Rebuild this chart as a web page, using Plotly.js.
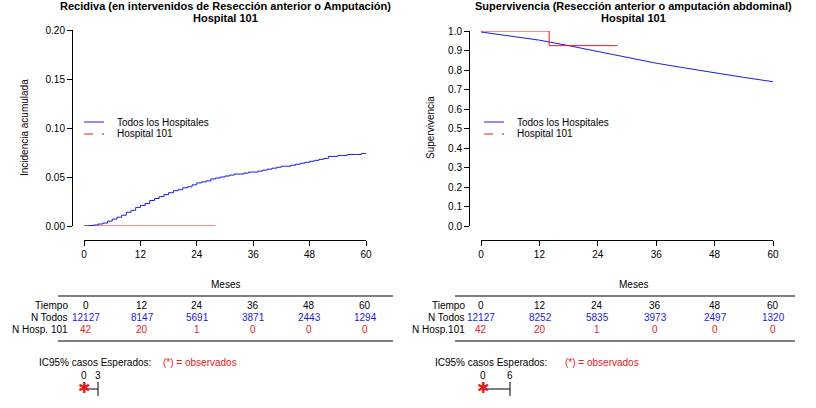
<!DOCTYPE html>
<html><head><meta charset="utf-8">
<script src="https://cdn.plot.ly/plotly-3.0.1.min.js"></script>
<style>body{margin:0}#c{width:816px;height:408px}</style>
</head><body><div id="c"></div>
<script>
// Recidiva (cumulative incidence), all hospitals vs hospital 101
const mesesRec = [0,1,2,3,4,5,6,7,8,9,10,11,12,13,14,15,16,17,18,19,20,21,22,23,24,25,26,27,28,29,30,31,32,33,34,35,36,37,38,39,40,41,42,43,44,45,46,47,48,49,50,51,52,53,54,55,56,57,58,59,60];
const recTodos = [0,0.0005,0.001,0.002,0.003,0.005,0.007,0.009,0.011,0.014,0.016,0.019,0.021,0.023,0.026,0.028,0.030,0.032,0.034,0.036,0.037,0.039,0.040,0.042,0.044,0.045,0.046,0.048,0.049,0.050,0.051,0.052,0.053,0.053,0.054,0.055,0.055,0.056,0.057,0.058,0.059,0.060,0.061,0.061,0.062,0.063,0.064,0.065,0.066,0.067,0.068,0.069,0.071,0.071,0.072,0.072,0.073,0.073,0.073,0.074,0.074];
const mesesRecH = [0,28];
const recHosp = [0,0];
// Supervivencia
const mesesSup = [0,6,12,18,24,30,36,42,48,54,60];
const supTodos = [0.995,0.975,0.953,0.925,0.895,0.865,0.835,0.81,0.785,0.762,0.74];
const mesesSupH = [0,14,14,28];
const supHosp = [1,1,0.925,0.925];
// risk tables
const tiempo = [0,12,24,36,48,60];
const nTodosRec = [12127,8147,5691,3871,2443,1294];
const nHospRec = [42,20,1,0,0,0];
const nTodosSup = [12127,8252,5835,3973,2497,1320];
const nHospSup = [42,20,1,0,0,0];

const W = 816, H = 408;
const px = x => x / W, py = y => 1 - y / H;
const BLUE = '#1a1ae6', RED = '#e61a1a';
const f = {family: 'Liberation Sans, Arial', size: 10, color: '#000'};

const data = [
  {x: mesesRecH, y: recHosp, type: 'scatter', mode: 'lines', line: {color: RED, width: 1}, xaxis: 'x', yaxis: 'y'},
  {x: mesesRec, y: recTodos, type: 'scatter', mode: 'lines', line: {color: BLUE, width: 1, shape: 'hv'}, xaxis: 'x', yaxis: 'y'},
  {x: mesesSup, y: supTodos, type: 'scatter', mode: 'lines', line: {color: BLUE, width: 1}, xaxis: 'x2', yaxis: 'y2'},
  {x: mesesSupH, y: supHosp, type: 'scatter', mode: 'lines', line: {color: RED, width: 1}, xaxis: 'x2', yaxis: 'y2'}
];

const ax = (extra) => Object.assign({showgrid: false, zeroline: false, showline: true, linecolor: '#000', linewidth: 1,
  ticks: 'outside', ticklen: 5, tickcolor: '#000', tickfont: f, anchor: 'free'}, extra);

const layout = {
  width: W, height: H, margin: {l: 0, r: 0, t: 0, b: 0}, showlegend: false,
  paper_bgcolor: '#fff', plot_bgcolor: 'rgba(0,0,0,0)',
  xaxis: ax({domain: [px(84), px(366)], range: [0, 60], tickvals: tiempo, position: py(240)}),
  yaxis: ax({domain: [py(226), py(30)], range: [0, 0.2], tickvals: [0, 0.05, 0.1, 0.15, 0.2], tickformat: '.2f', position: px(72)}),
  xaxis2: ax({domain: [px(481), px(773)], range: [0, 60], tickvals: tiempo, position: py(240)}),
  yaxis2: ax({domain: [py(226), py(31)], range: [0, 1], dtick: 0.1, tickformat: '.1f', position: px(469)}),
  annotations: [], shapes: []
};
const A = (x, y, text, opt) => layout.annotations.push(Object.assign({xref: 'paper', yref: 'paper', x: px(x), y: py(y),
  text, showarrow: false, font: f, xanchor: 'center', yanchor: 'middle'}, opt || {}));
const L = (x0, y0, x1, y1, color, dash) => layout.shapes.push({type: 'line', xref: 'paper', yref: 'paper',
  x0: px(x0), y0: py(y0), x1: px(x1), y1: py(y1), line: {color: color || '#000', width: 1, dash: dash || 'solid'}});
const bold = Object.assign({}, f, {size: 11, weight: 'bold'});

// titles
A(225, 6, 'Recidiva (en intervenidos de Resección anterior o Amputación)', {font: bold});
A(225, 18, 'Hospital 101', {font: bold});
A(633, 6, 'Supervivencia (Resección anterior o amputación abdominal)', {font: bold});
A(633, 18, 'Hospital 101', {font: bold});
A(225, 284, 'Meses'); A(633, 284, 'Meses');
A(24, 128, 'Incidencia acumulada', {textangle: -90});
A(430, 128, 'Supervivencia', {textangle: -90});

// legends
[[84], [484]].forEach(([x]) => {
  L(x, 122, x + 20, 122, BLUE); L(x, 134, x + 20, 134, RED, 'dash');
  A(x + 31, 122, 'Todos los Hospitales', {xanchor: 'left'});
  A(x + 31, 134, 'Hospital 101', {xanchor: 'left'});
});

// risk tables
function table(cols, labEnd, lx0, lx1, nT, nH, hospLabel) {
  L(lx0, 296, lx1, 296); L(lx0, 341, lx1, 341);
  A(labEnd, 305, 'Tiempo', {xanchor: 'right'});
  A(labEnd, 317, 'N Todos', {xanchor: 'right'});
  A(labEnd, 329, hospLabel, {xanchor: 'right'});
  cols.forEach((cx, i) => {
    A(cx, 305, String(tiempo[i]));
    A(cx, 317, String(nT[i]), {font: Object.assign({}, f, {color: BLUE})});
    A(cx, 329, String(nH[i]), {font: Object.assign({}, f, {color: RED})});
  });
}
table([86, 142, 197, 253, 309, 365], 70, 58, 393, nTodosRec, nHospRec, 'N Hosp. 101');
table([481, 540, 597, 655, 715, 773], 467, 455, 795, nTodosSup, nHospSup, 'N Hosp.101');

// IC95 blocks
function ic(tx, ox, x0, x1, hi) {
  A(tx, 362, 'IC95% casos Esperados:', {xanchor: 'left'});
  A(ox, 362, '(*) = observados', {xanchor: 'left', font: Object.assign({}, f, {color: RED})});
  A(x0, 375, '0'); A(x1, 375, String(hi));
  L(x0, 389, x1, 389); L(x1, 382, x1, 396);
  A(x0, 387, '✱', {font: Object.assign({}, f, {color: RED, size: 15})});
}
ic(37, 161, 84, 98, 3);
ic(433, 563, 483, 510, 6);

Plotly.newPlot('c', data, layout, {staticPlot: true});
</script></body></html>
